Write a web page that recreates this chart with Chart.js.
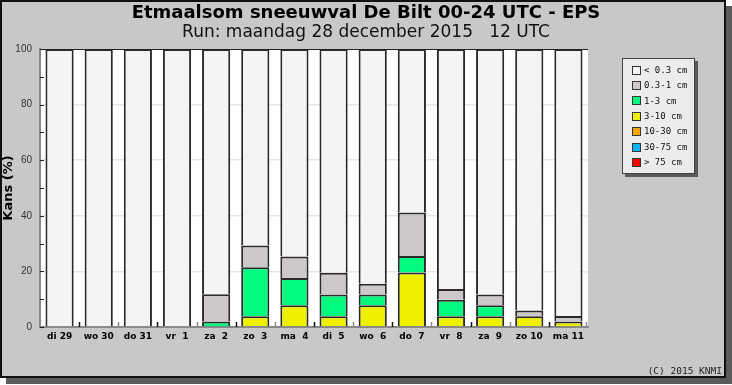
<!DOCTYPE html>
<html>
<head>
<meta charset="utf-8">
<script src="https://cdn.jsdelivr.net/npm/chart.js@4.4.1/dist/chart.umd.min.js"></script>
<style>
  body { margin: 0; background: #fff; }
  #panel {
    position: absolute; left: 0; top: 0;
    width: 722px; height: 374px;
    border: 2px solid #111;
    background: #c8c8c8;
    box-shadow: 6px 6px 0 #5a5a5a;
  }
  canvas { display: block; }
</style>
</head>
<body>
<div id="panel"><canvas id="snowChart" width="722" height="374"></canvas></div>
<script>
// days of the forecast
const categories = ['di 29', 'wo 30', 'do 31', 'vr  1', 'za  2', 'zo  3', 'ma  4',
                    'di  5', 'wo  6', 'do  7', 'vr  8', 'za  9', 'zo 10', 'ma 11'];

// chance (%) per snowfall class
const lt03  = [100, 100, 100, 100, 88.2, 70.7, 74.6, 80.5, 84.4, 58.8, 86.3, 88.3, 94.1, 96.0];
const c03_1 = [0, 0, 0, 0, 9.8, 7.8, 7.8, 7.8, 3.9, 15.7, 3.9, 3.9, 2.0, 2.0];
const c1_3  = [0, 0, 0, 0, 2.0, 17.6, 9.8, 7.8, 3.9, 5.9, 5.9, 3.9, 0, 0];
const c3_10 = [0, 0, 0, 0, 0, 3.9, 7.8, 3.9, 7.8, 19.6, 3.9, 3.9, 3.9, 2.0];
const c10_30 = [0, 0, 0, 0, 0, 0, 0, 0, 0, 0, 0, 0, 0, 0];
const c30_75 = [0, 0, 0, 0, 0, 0, 0, 0, 0, 0, 0, 0, 0, 0];
const gt75   = [0, 0, 0, 0, 0, 0, 0, 0, 0, 0, 0, 0, 0, 0];

const yTicks = [0, 20, 40, 60, 80, 100];

// bottom of the stack first
const classes = [
  { label: '> 75 cm',  data: gt75,   color: '#ff0000' },
  { label: '30-75 cm', data: c30_75, color: '#00b4f0' },
  { label: '10-30 cm', data: c10_30, color: '#ffa500' },
  { label: '3-10 cm',  data: c3_10,  color: '#eef000' },
  { label: '1-3 cm',   data: c1_3,   color: '#00fa7d' },
  { label: '0.3-1 cm', data: c03_1,  color: '#cdc9c9' },
  { label: '< 0.3 cm', data: lt03,   color: '#f4f4f4' }
];

const knmiPlugin = {
  id: 'knmiFrame',
  beforeDraw(chart) {
    const { ctx, chartArea: a } = chart;
    ctx.save();
    ctx.fillStyle = '#fff';
    ctx.fillRect(a.left, a.top, a.right - a.left, a.bottom - a.top);
    ctx.restore();
  },
  afterDraw(chart) {
    const { ctx, chartArea: a } = chart;
    const x = chart.scales.x, y = chart.scales.y;
    ctx.save();

    // top frame line
    ctx.strokeStyle = '#222';
    ctx.lineWidth = 1;
    ctx.beginPath();
    ctx.moveTo(a.left, a.top + 0.5);
    ctx.lineTo(a.right, a.top + 0.5);
    ctx.stroke();

    // inward ticks on the y axis
    y.ticks.forEach(t => {
      const py = Math.round(y.getPixelForValue(t.value)) + 0.5;
      ctx.beginPath();
      ctx.moveTo(a.left, py);
      ctx.lineTo(a.left + 4, py);
      ctx.stroke();
    });

    // inward ticks between the days
    for (let i = 1; i <= categories.length; i++) {
      const px = i < categories.length
        ? Math.round((x.getPixelForValue(i - 1) + x.getPixelForValue(i)) / 2) + 0.5
        : Math.round(a.right) - 1.5;
      ctx.strokeStyle = i % 2 ? '#111' : '#888';
      ctx.lineWidth = 1.5;
      ctx.beginPath();
      ctx.moveTo(px, a.bottom);
      ctx.lineTo(px, a.bottom - 5);
      ctx.stroke();
    }

    // legend box
    const lx = 620, ly = 56, lw = 73, lh = 116;
    ctx.fillStyle = '#5a5a5a';
    ctx.fillRect(lx + 3, ly + 3, lw, lh);
    ctx.fillStyle = '#ececec';
    ctx.fillRect(lx, ly, lw, lh);
    ctx.strokeStyle = '#444';
    ctx.lineWidth = 1;
    ctx.strokeRect(lx + 0.5, ly + 0.5, lw - 1, lh - 1);

    const items = chart.data.datasets.slice().reverse();
    ctx.font = '9px "DejaVu Sans Mono"';
    ctx.textBaseline = 'middle';
    ctx.textAlign = 'left';
    items.forEach((ds, i) => {
      const cy = 68 + i * 15.4;
      ctx.fillStyle = ds.backgroundColor;
      ctx.fillRect(630, Math.round(cy - 4.5), 9, 9);
      ctx.strokeStyle = '#333';
      ctx.strokeRect(630.5, Math.round(cy - 4.5) + 0.5, 8, 8);
      ctx.fillStyle = '#111';
      ctx.fillText(ds.label, 642, cy + 0.5);
    });

    // copyright
    ctx.font = '9.5px "DejaVu Sans Mono"';
    ctx.textAlign = 'right';
    ctx.fillStyle = '#222';
    ctx.fillText('(C) 2015 KNMI', 720, 370);

    ctx.restore();
  }
};

new Chart(document.getElementById('snowChart'), {
  type: 'bar',
  data: {
    labels: categories,
    datasets: classes.map(c => ({
      label: c.label,
      data: c.data.map(v => v || null),
      backgroundColor: c.color,
      borderColor: '#2a2a2a',
      borderWidth: 2,
      borderSkipped: 'start',
      barPercentage: 0.72,
      categoryPercentage: 1
    }))
  },
  options: {
    responsive: false,
    animation: false,
    devicePixelRatio: 1,
    layout: { padding: { left: 6, right: 0, top: 0, bottom: 0 } },
    plugins: {
      legend: { display: false },
      tooltip: { enabled: false },
      title: {
        display: true,
        text: 'Etmaalsom sneeuwval De Bilt 00-24 UTC - EPS',
        color: '#000',
        font: { family: 'DejaVu Sans', size: 18, weight: 'bold', lineHeight: 1.0 },
        padding: { top: 2, bottom: 0 }
      },
      subtitle: {
        display: true,
        text: 'Run: maandag 28 december 2015   12 UTC',
        color: '#111',
        font: { family: 'DejaVu Sans', size: 17, weight: 'normal', lineHeight: 1.2 },
        padding: { top: 0, bottom: 6.6 }
      }
    },
    scales: {
      x: {
        stacked: true,
        afterFit: s => { s.height = 49; },
        grid: { display: true, color: 'rgba(0,0,0,0)', drawTicks: false },
        border: { display: true, color: '#888', width: 2 },
        ticks: {
          color: '#000',
          padding: 4,
          maxRotation: 0,
          autoSkip: false,
          font: { family: 'DejaVu Sans', size: 9, weight: 'bold' }
        }
      },
      y: {
        stacked: true,
        min: 0,
        max: 100,
        afterFit: s => { s.width = 32; },
        grid: {
          drawTicks: false,
          lineWidth: 1.5,
          color: c => (c.tick && yTicks.includes(c.tick.value) && c.tick.value > 0 && c.tick.value < 100)
            ? '#e6e6e6' : 'rgba(0,0,0,0)'
        },
        border: { display: true, color: '#888', width: 2 },
        ticks: {
          stepSize: 10,
          padding: 8,
          color: '#333',
          font: { family: 'Liberation Sans', size: 10 },
          callback: v => yTicks.includes(v) ? v : ''
        },
        title: {
          display: true,
          text: 'Kans (%)',
          color: '#000',
          font: { family: 'DejaVu Sans', size: 13, weight: 'bold', lineHeight: 1.0 },
          padding: { top: -6, bottom: 0 }
        }
      },
      yPad: {
        type: 'linear',
        position: 'right',
        display: true,
        afterFit: s => { s.width = 136; },
        grid: { display: false, drawTicks: false },
        border: { display: false },
        ticks: { display: false }
      }
    }
  },
  plugins: [knmiPlugin]
});
</script>
</body>
</html>
